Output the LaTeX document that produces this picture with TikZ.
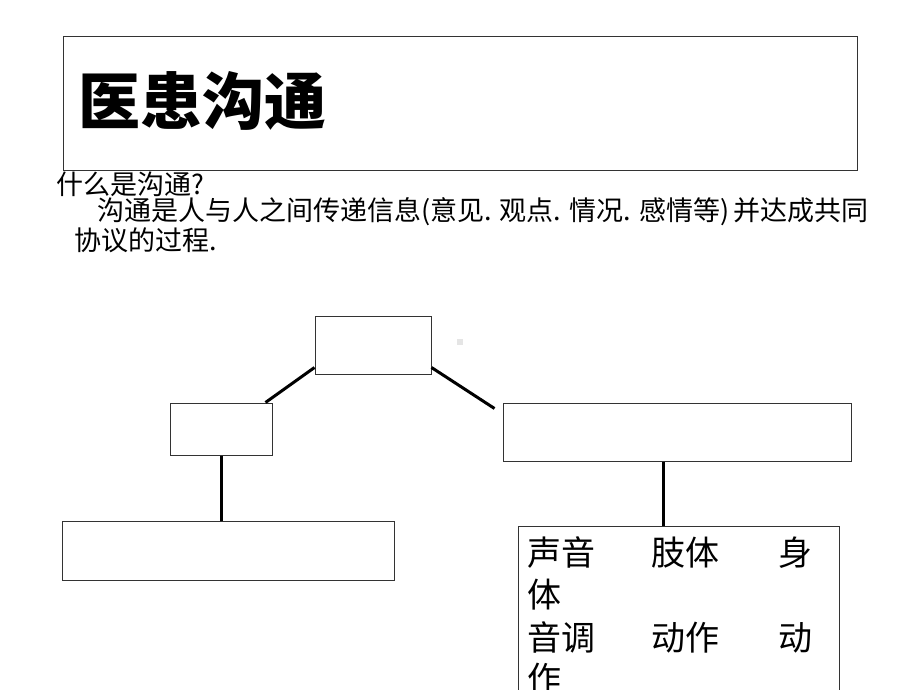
\documentclass[tikz,border=0pt]{standalone}
\usepackage{fontspec}
\setmainfont{Noto Sans CJK SC}
\usetikzlibrary{positioning,calc}
\tikzset{
  box/.style={draw=black!80,line width=1pt,inner sep=0pt},
  conn/.style={line width=3pt,black},
  bodytext/.style={inner sep=0pt,anchor=west,font=\fontsize{27pt}{30pt}\selectfont},
  boxtext/.style={inner sep=0pt,anchor=west,font=\fontsize{34pt}{40pt}\selectfont}
}

\begin{document}
\begin{tikzpicture}[x=1pt,y=-1pt]
            \useasboundingbox (0,0) rectangle (920,690);
            \clip (0,0) rectangle (920,690);

            \node[box,minimum width=794pt,minimum height=133pt] (titlebox) at (460,103.5) {};
            \node[inner sep=0pt,anchor=west,font=\fontsize{62pt}{70pt}\selectfont\bfseries] (title) at (78,101) {医患沟通};

            \node[bodytext] (question) at (56,184) {什么是沟通?};
            \node[bodytext] (answer) at (97,212) {沟通是人与人之间传递信息(意见. 观点. 情况. 感情等)\,并达成共同};
            \node[bodytext] (answer2) at (74,240) {协议的过程.};

            \node[box,minimum width=116pt,minimum height=58pt] (top) at (373,345) {};
            \node[box,minimum width=102pt,minimum height=52pt] (lbox) at (221,429) {};
            \node[box,minimum width=348pt,minimum height=58pt] (rbox) at (677,432) {};
            \node[box,minimum width=332pt,minimum height=59pt] (llbox) at (228,550.5) {};
            \node[box,minimum width=321pt,minimum height=194pt] (rrbox) at (678.5,623) {};

            \fill[gray!20] (457,339) rectangle (463,345);

            \draw[conn] ([yshift=7pt]top.south west) -- ([xshift=-7pt]lbox.north east);
            \draw[conn] ([yshift=7pt]top.south east) -- ([xshift=-8pt,yshift=-6pt]rbox.north west);
            \draw[conn] (lbox.south) -- (lbox.south |- llbox.north);
            \draw[conn] ([xshift=-14pt]rbox.south) -- ([xshift=-14pt]rbox.south |- rrbox.north);

            \node[boxtext] (line1) at (527,553) {\makebox[124pt][l]{声音}\makebox[127pt][l]{肢体}身};
            \node[boxtext] (line2) at (527,595) {体};
            \node[boxtext] (line3) at (527,637) {\makebox[124pt][l]{音调}\makebox[127pt][l]{动作}动};
            \node[boxtext] (line4) at (527,679) {作};
\end{tikzpicture}
\end{document}
